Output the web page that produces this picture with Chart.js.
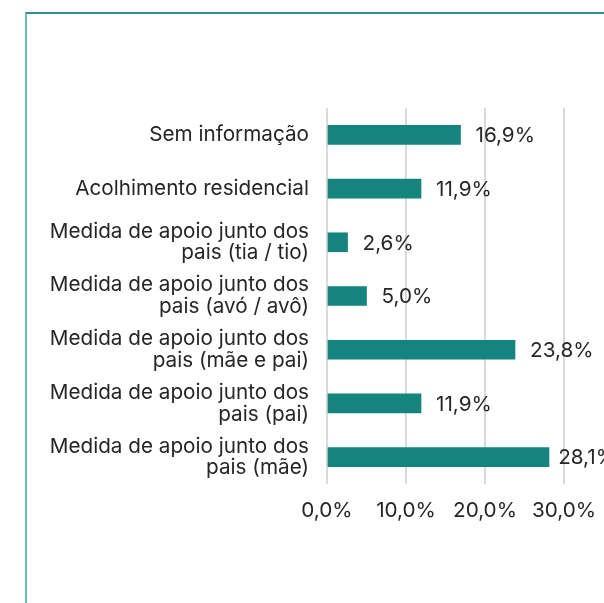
<!DOCTYPE html>
<html>
<head>
<meta charset="utf-8">
<script src="https://cdn.jsdelivr.net/npm/chart.js@4.4.1/dist/chart.umd.min.js"></script>
<style>
  html, body { margin: 0; padding: 0; background: #fff; overflow: hidden; }
  #wrap { position: relative; width: 604px; height: 603px; }
  #frame {
    position: absolute; left: 25px; top: 12px; right: -10px; bottom: -10px;
    border-top: 2px solid #2e9090; border-left: 2px solid #6cbaba;
  }
  #chart { position: absolute; left: 0; top: 0; }
</style>
</head>
<body>
<div id="wrap">
  <div id="frame"></div>
  <canvas id="chart" width="604" height="603"></canvas>
</div>
<script>
const categories = [
  'Sem informação',
  'Acolhimento residencial',
  ['Medida de apoio junto dos', 'pais (tia / tio)'],
  ['Medida de apoio junto dos', 'pais (avó / avô)'],
  ['Medida de apoio junto dos', 'pais (mãe e pai)'],
  ['Medida de apoio junto dos', 'pais (pai)'],
  ['Medida de apoio junto dos', 'pais (mãe)']
];
const percentages = [16.9, 11.9, 2.6, 5.0, 23.8, 11.9, 28.1];
const tickValues = [0, 10, 20, 30];

const fmt = v => v.toFixed(1).replace('.', ',') + '%';
const textColor = '#262626';
const fontFamily = 'Inter';
const fontSize = 20.7;

// value labels to the right of each bar, kept inside the plot box like excel does
const valueLabels = {
  id: 'valueLabels',
  afterDatasetsDraw(chart) {
    const ctx = chart.ctx;
    const meta = chart.getDatasetMeta(0);
    const limit = chart.chartArea.right + 52;
    ctx.save();
    ctx.font = fontSize + 'px ' + fontFamily;
    ctx.fillStyle = textColor;
    ctx.textAlign = 'left';
    ctx.textBaseline = 'middle';
    meta.data.forEach((bar, i) => {
      const txt = fmt(percentages[i]);
      const w = ctx.measureText(txt).width;
      const x = Math.min(bar.x + 15, limit - w);
      ctx.fillText(txt, x, bar.y + 1);
    });
    ctx.restore();
  }
};

const chart = new Chart(document.getElementById('chart'), {
  type: 'bar',
  data: {
    labels: categories,
    datasets: [{
      data: percentages,
      backgroundColor: '#15847f',
      barThickness: 19,
      borderSkipped: false
    }]
  },
  options: {
    indexAxis: 'y',
    responsive: false,
    animation: false,
    events: [],
    layout: { padding: { left: 0, right: 40, top: 108, bottom: 79 } },
    plugins: { legend: { display: false }, tooltip: { enabled: false } },
    scales: {
      x: {
        min: 0,
        max: 30,
        afterBuildTicks(scale) { scale.ticks = tickValues.map(v => ({ value: v })); },
        afterFit(scale) {
          scale.height = 40;
          scale.paddingLeft = 0;
          scale.paddingRight = 0;
        },
        grid: { color: '#d9d9d9', lineWidth: 2, drawTicks: false },
        border: { display: false },
        ticks: {
          padding: 14,
          color: textColor,
          font: { family: fontFamily, size: fontSize },
          callback: v => fmt(v)
        }
      },
      y: {
        afterFit(scale) { scale.width = 327; },
        grid: { display: false, drawTicks: false },
        border: { display: false },
        ticks: {
          padding: 18,
          color: textColor,
          font: { family: fontFamily, size: fontSize, lineHeight: 1.05 }
        }
      }
    }
  },
  plugins: [valueLabels]
});
</script>
</body>
</html>
